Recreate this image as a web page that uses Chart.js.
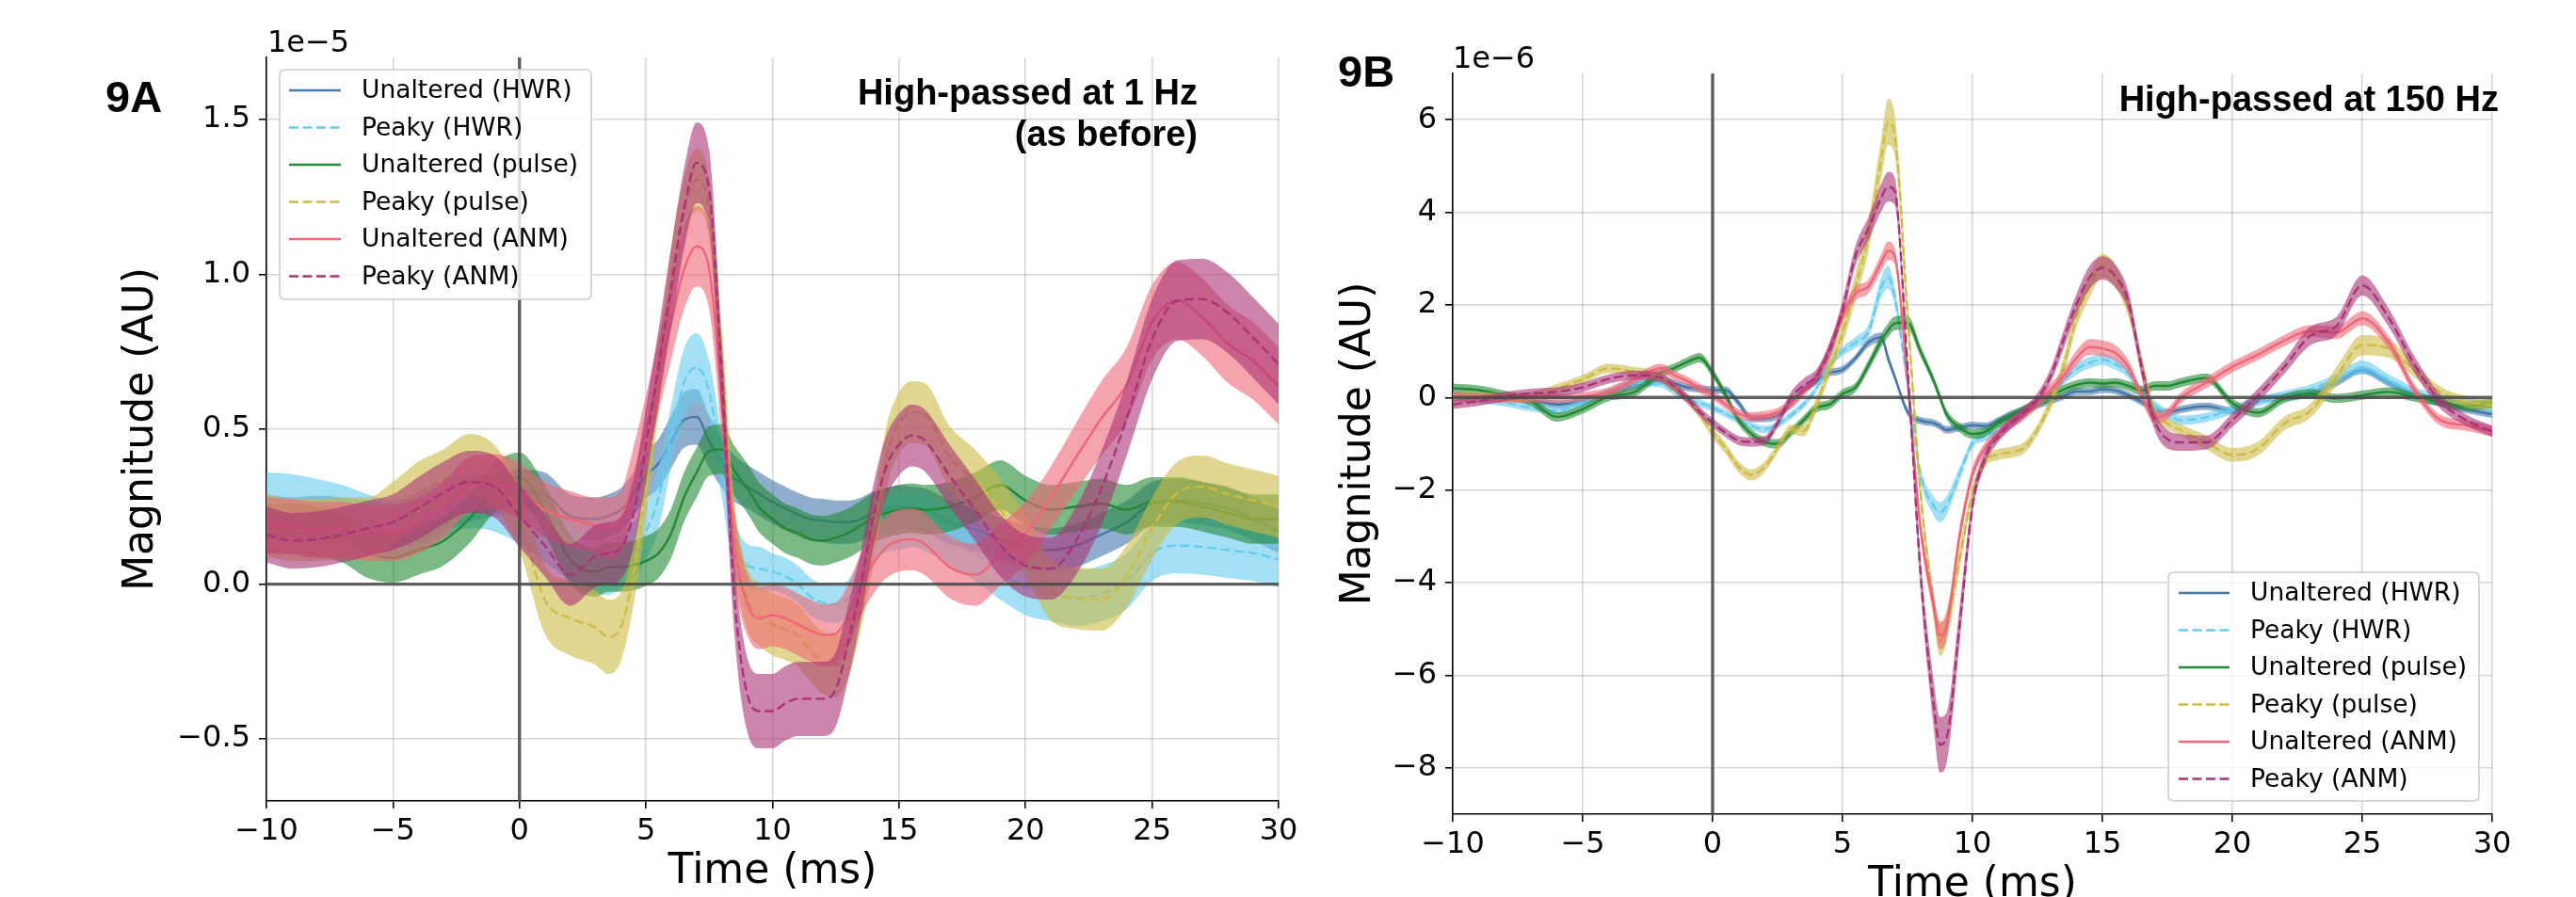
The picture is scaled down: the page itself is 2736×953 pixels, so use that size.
<!DOCTYPE html>
<html><head><meta charset="utf-8">
<script src="https://cdn.jsdelivr.net/npm/chart.js@4.4.1/dist/chart.umd.min.js"></script>
<style>
html,body{margin:0;padding:0;background:#fff;overflow:hidden;width:2736px;height:953px;}
#wa{position:absolute;left:0;top:0;width:1400px;height:953px;}
#wb{position:absolute;left:1400px;top:0;width:1336px;height:967px;}
canvas{display:block;}
</style></head><body>
<div id="wa"><canvas id="ca" width="1400" height="953"></canvas></div>
<div id="wb"><canvas id="cb" width="1336" height="967"></canvas></div>
<script>
// ---------- shared ----------
const seriesLabels = ['Unaltered (HWR)','Peaky (HWR)','Unaltered (pulse)','Peaky (pulse)','Unaltered (ANM)','Peaky (ANM)'];
const seriesColors = ['#4477AA','#66CCEE','#228833','#CCBB44','#EE6677','#AA3377'];
const seriesDashed = [false,true,false,true,false,true];
const xTicks = [-10,-5,0,5,10,15,20,25,30];
const xTickLabels = ['\u221210','\u22125','0','5','10','15','20','25','30'];

// ---------- Panel 9A (units of 1e-5) ----------
const yTicksA = [-0.5,0,0.5,1.0,1.5];
const yTickLabelsA = ['\u22120.5','0.0','0.5','1.0','1.5'];
const tA = [-10,-9,-8,-7,-6,-5,-4,-3,-2,-1,0,1,2,3,3.5,4,4.5,5,5.5,6,6.5,7,7.5,8,8.5,9,9.5,10,10.5,11,11.5,12,12.5,13,13.5,14,14.5,15,15.5,16,17,18,19,20,21,22,23,24,25,26,27,28,29,30];
const aUnaltHWR = [0.22,0.21,0.215,0.21,0.2,0.19,0.2,0.24,0.27,0.29,0.30,0.29,0.22,0.21,
 0.22,0.24,0.29,0.35,0.39,0.46,0.53,0.54,0.46,0.39,0.34,0.315,0.29,0.265,0.245,0.225,0.21,0.205,0.2,0.2,0.21,0.23,0.24,0.25,0.245,0.24,
 0.2,0.175,0.145,0.12,0.11,0.125,0.16,0.2,0.26,0.27,0.26,0.245,0.21,0.17];
const aPeakyHWR = [0.27,0.265,0.25,0.23,0.2,0.18,0.2,0.24,0.27,0.26,0.22,0.16,0.1,0.06,
 0.055,0.075,0.11,0.17,0.28,0.48,0.65,0.70,0.62,0.38,0.125,0.06,0.05,0.04,0.025,0.0,-0.04,-0.06,-0.065,-0.045,0.025,0.14,0.195,0.2,0.21,0.2,
 0.15,0.1,0.04,-0.01,-0.03,-0.045,-0.03,0.01,0.1,0.125,0.12,0.11,0.1,0.08];
const aUnaltPulse = [0.18,0.18,0.17,0.15,0.1,0.085,0.11,0.14,0.21,0.31,0.345,0.24,0.08,0.04,
 0.055,0.055,0.06,0.075,0.1,0.165,0.28,0.36,0.43,0.435,0.365,0.31,0.245,0.21,0.18,0.165,0.145,0.14,0.15,0.165,0.19,0.215,0.23,0.24,0.245,0.24,
 0.25,0.28,0.32,0.27,0.24,0.25,0.26,0.24,0.265,0.265,0.25,0.23,0.21,0.21];
const aPeakyPulse = [0.19,0.175,0.175,0.18,0.18,0.23,0.295,0.335,0.385,0.35,0.21,-0.05,-0.11,-0.14,
 -0.17,-0.14,0.03,0.31,0.66,0.99,1.21,1.305,1.21,0.73,0.165,-0.045,-0.1,-0.13,-0.145,-0.165,-0.215,-0.255,-0.265,-0.2,-0.045,0.165,0.41,0.52,0.555,0.55,
 0.41,0.335,0.24,0.125,-0.017,-0.045,-0.05,0.025,0.18,0.295,0.315,0.29,0.27,0.25];
const aUnaltANM = [0.19,0.185,0.175,0.175,0.165,0.165,0.19,0.24,0.32,0.33,0.30,0.24,0.21,0.19,
 0.18,0.2,0.34,0.5,0.675,0.845,1.015,1.09,1.015,0.59,0.125,-0.065,-0.11,-0.1,-0.11,-0.13,-0.15,-0.165,-0.16,-0.1,0.0,0.07,0.12,0.14,0.145,0.13,
 0.055,0.03,0.095,0.165,0.28,0.41,0.535,0.645,0.845,0.915,0.86,0.775,0.72,0.64];
const aPeakyANM = [0.16,0.14,0.145,0.16,0.18,0.2,0.245,0.295,0.33,0.315,0.22,0.125,0.03,0.09,
 0.1,0.115,0.225,0.45,0.705,0.96,1.21,1.36,1.27,0.66,-0.045,-0.355,-0.41,-0.41,-0.385,-0.37,-0.37,-0.37,-0.34,-0.185,0.0,0.225,0.38,0.45,0.48,0.465,
 0.35,0.24,0.125,0.06,0.05,0.14,0.31,0.535,0.79,0.915,0.92,0.875,0.795,0.71];
// band half-widths (read from shaded widths)
const aSdUnaltHWR = [0.07,0.07,0.07,0.07,0.07,0.07,0.07,0.07,0.07,0.07,0.07,0.07,0.07,0.07,
 0.07,0.07,0.07,0.075,0.08,0.085,0.09,0.09,0.085,0.08,0.075,0.07,0.07,0.07,0.07,0.07,0.07,0.07,0.07,0.07,0.07,0.07,0.07,0.07,0.07,0.07,
 0.07,0.07,0.07,0.07,0.07,0.07,0.07,0.07,0.07,0.07,0.07,0.07,0.07,0.07];
const aSdPeakyHWR = [0.09,0.09,0.09,0.09,0.09,0.09,0.09,0.09,0.09,0.09,0.09,0.09,0.09,0.09,
 0.09,0.09,0.09,0.09,0.1,0.1,0.11,0.11,0.1,0.1,0.09,0.07,0.07,0.06,0.06,0.06,0.06,0.06,0.06,0.06,0.07,0.08,0.09,0.09,0.09,0.09,
 0.09,0.09,0.09,0.09,0.09,0.09,0.09,0.09,0.09,0.09,0.09,0.09,0.09,0.09];
const aSdUnaltPulse = [0.08,0.08,0.08,0.08,0.08,0.08,0.08,0.08,0.08,0.08,0.08,0.08,0.08,0.08,
 0.08,0.08,0.08,0.08,0.08,0.08,0.08,0.08,0.08,0.08,0.08,0.08,0.08,0.08,0.08,0.08,0.08,0.08,0.08,0.08,0.08,0.08,0.08,0.08,0.08,0.08,
 0.08,0.08,0.08,0.08,0.08,0.08,0.08,0.08,0.08,0.08,0.08,0.08,0.08,0.08];
const aSdPeakyPulse = [0.1,0.1,0.1,0.1,0.1,0.1,0.1,0.1,0.1,0.1,0.1,0.11,0.12,0.12,
 0.12,0.11,0.1,0.1,0.1,0.1,0.1,0.1,0.1,0.1,0.1,0.1,0.1,0.1,0.1,0.1,0.1,0.1,0.1,0.1,0.1,0.1,0.1,0.1,0.1,0.1,
 0.1,0.1,0.1,0.1,0.1,0.1,0.1,0.1,0.1,0.1,0.1,0.1,0.1,0.1];
const aSdUnaltANM = [0.09,0.09,0.09,0.09,0.09,0.09,0.09,0.09,0.09,0.09,0.09,0.09,0.09,0.09,
 0.1,0.1,0.1,0.11,0.12,0.12,0.13,0.13,0.13,0.12,0.11,0.1,0.1,0.1,0.1,0.1,0.1,0.1,0.1,0.1,0.1,0.1,0.1,0.1,0.1,0.1,
 0.1,0.1,0.1,0.1,0.1,0.11,0.12,0.12,0.12,0.125,0.125,0.125,0.125,0.125];
const aSdPeakyANM = [0.09,0.09,0.09,0.09,0.09,0.09,0.1,0.1,0.1,0.1,0.1,0.1,0.1,0.1,
 0.1,0.1,0.11,0.12,0.12,0.13,0.13,0.13,0.13,0.12,0.12,0.12,0.12,0.12,0.12,0.12,0.12,0.12,0.12,0.12,0.11,0.1,0.1,0.1,0.1,0.1,
 0.1,0.1,0.1,0.1,0.1,0.11,0.12,0.12,0.13,0.13,0.13,0.13,0.13,0.13];

// ---------- Panel 9B (units of 1e-6) ----------
const yTicksB = [-8,-6,-4,-2,0,2,4,6];
const yTickLabelsB = ['\u22128','\u22126','\u22124','\u22122','0','2','4','6'];
const tB = [-10,-9,-8,-7,-6,-5,-4,-3,-2,
 -1.5,-1,-0.5,0,0.5,1,1.5,2,2.5,3,3.5,4,4.5,
 5,5.5,6,6.5,6.75,7,7.5,8,8.5,8.75,9,9.5,10,
 10.5,11,11.5,12,12.5,13,13.5,14,14.5,15,15.5,16,16.5,17,17.5,18,
 19,20,21,22,23,24,25,26,27,28,29,30];
const bUnaltHWR = [0.05,0.02,0.02,-0.05,-0.15,-0.08,0.09,0.26,0.36,
 0.31,0.22,0.19,0.16,0.16,-0.12,-0.45,-0.45,-0.39,-0.15,0.16,0.36,0.53,
 0.6,0.85,1.19,1.3,0.85,0.46,-0.31,-0.5,-0.55,-0.62,-0.7,-0.65,-0.6,
 -0.62,-0.5,-0.36,-0.26,-0.16,-0.07,0.03,0.13,0.13,0.18,0.15,0.05,-0.09,-0.26,-0.33,-0.26,
 -0.19,-0.29,-0.05,0.01,0.08,0.32,0.59,0.32,0.05,-0.12,-0.26,-0.36];
const bPeakyHWR = [-0.01,-0.05,-0.11,-0.22,-0.28,-0.11,0.12,0.31,0.3,
 0.14,-0.01,-0.12,-0.22,-0.35,-0.49,-0.62,-0.69,-0.59,-0.39,-0.15,0.2,0.7,
 1.0,1.19,1.43,2.4,2.6,2.2,0.3,-1.66,-2.34,-2.48,-2.34,-1.66,-0.99,
 -0.84,-0.7,-0.5,-0.31,-0.12,0.08,0.37,0.61,0.75,0.82,0.72,0.52,0.12,-0.16,-0.36,-0.49,
 -0.43,-0.26,-0.09,0.05,0.18,0.39,0.66,0.39,0.12,-0.02,-0.09,-0.22];
const bUnaltPulse = [0.2,0.16,0.05,-0.08,-0.42,-0.25,0.02,0.12,0.53,
 0.63,0.76,0.86,0.53,0.05,-0.49,-0.79,-0.96,-1.0,-0.76,-0.49,-0.22,-0.15,
 0.08,0.22,0.7,1.24,1.45,1.6,1.62,1.0,0.37,0.0,-0.36,-0.65,-0.79,
 -0.74,-0.55,-0.41,-0.26,-0.12,0.03,0.17,0.27,0.32,0.3,0.32,0.25,0.15,0.25,0.25,0.32,
 0.42,-0.12,-0.33,-0.02,0.08,-0.02,0.05,0.12,0.01,-0.09,-0.19,-0.12];
const bPeakyPulse = [0.02,0.02,-0.01,0.02,0.19,0.39,0.63,0.56,0.43,
 0.22,-0.01,-0.35,-0.76,-1.1,-1.5,-1.67,-1.5,-1.1,-0.69,-0.72,-0.15,0.65,
 1.4,2.4,3.5,5.2,5.95,5.7,1.82,-2.05,-4.46,-5.24,-4.95,-3.5,-2.05,
 -1.37,-1.23,-1.18,-1.08,-0.7,-0.12,0.66,1.72,2.4,2.85,2.62,1.94,0.79,-0.29,-0.56,-0.7,
 -0.97,-1.24,-1.1,-0.56,-0.29,0.45,1.13,1.06,0.59,0.12,-0.09,-0.16];
const bUnaltANM = [0.02,-0.01,-0.01,-0.01,-0.01,0.02,0.12,0.39,0.63,
 0.49,0.36,0.2,0.05,-0.15,-0.35,-0.42,-0.39,-0.32,-0.15,0.12,0.46,1.07,
 1.78,2.25,2.4,2.93,3.17,3.07,0.37,-2.82,-4.46,-5.14,-4.95,-3.0,-1.66,
 -1.08,-0.79,-0.55,-0.36,-0.12,0.17,0.46,0.85,1.09,1.06,0.96,0.66,0.05,-0.43,-0.36,-0.02,
 0.32,0.66,0.93,1.23,1.44,1.4,1.71,1.2,0.18,-0.49,-0.6,-0.73];
const bPeakyANM = [-0.15,-0.08,0.02,0.09,0.12,0.22,0.4,0.48,0.43,
 0.25,-0.01,-0.3,-0.55,-0.76,-0.93,-0.96,-0.93,-0.55,-0.01,0.26,0.46,1.0,
 1.9,3.07,3.65,4.33,4.55,4.47,0.66,-3.79,-6.59,-7.5,-7.36,-4.95,-2.34,
 -1.28,-0.84,-0.55,-0.31,-0.02,0.46,1.24,2.01,2.59,2.8,2.62,2.08,0.66,-0.49,-0.9,-0.97,
 -0.97,-0.49,0.05,0.66,1.33,1.54,2.42,1.74,0.72,-0.09,-0.49,-0.73];
const bSdUnaltHWR = [0.08,0.08,0.08,0.08,0.08,0.08,0.08,0.08,0.08,
 0.08,0.08,0.08,0.08,0.08,0.08,0.08,0.08,0.08,0.08,0.08,0.08,0.08,
 0.08,0.08,0.1,0.1,0.1,0.08,0.08,0.08,0.08,0.08,0.08,0.08,0.08,
 0.08,0.08,0.08,0.08,0.08,0.08,0.08,0.08,0.08,0.08,0.08,0.08,0.08,0.08,0.08,0.08,
 0.08,0.08,0.08,0.08,0.08,0.08,0.08,0.08,0.08,0.08,0.08,0.08];
const bSdPeakyHWR = [0.08,0.08,0.08,0.08,0.08,0.08,0.08,0.08,0.08,
 0.08,0.08,0.08,0.08,0.08,0.08,0.08,0.08,0.08,0.08,0.08,0.08,0.08,
 0.1,0.12,0.15,0.22,0.25,0.2,0.15,0.15,0.2,0.22,0.2,0.15,0.1,
 0.1,0.1,0.1,0.1,0.1,0.1,0.1,0.12,0.12,0.12,0.12,0.1,0.1,0.1,0.1,0.1,
 0.1,0.1,0.1,0.1,0.1,0.12,0.14,0.12,0.1,0.1,0.1,0.1];
const bSdUnaltPulse = [0.1,0.1,0.1,0.1,0.1,0.1,0.1,0.1,0.1,
 0.1,0.1,0.1,0.1,0.1,0.1,0.1,0.1,0.1,0.1,0.1,0.1,0.1,
 0.1,0.1,0.12,0.14,0.15,0.15,0.15,0.12,0.1,0.1,0.1,0.1,0.1,
 0.1,0.1,0.1,0.1,0.1,0.1,0.1,0.1,0.1,0.1,0.1,0.1,0.1,0.1,0.1,0.1,
 0.1,0.1,0.1,0.1,0.1,0.1,0.1,0.1,0.1,0.1,0.1,0.1];
const bSdPeakyPulse = [0.1,0.1,0.1,0.1,0.1,0.1,0.1,0.1,0.1,
 0.1,0.1,0.1,0.12,0.12,0.12,0.12,0.12,0.1,0.1,0.12,0.15,0.2,
 0.25,0.3,0.35,0.45,0.5,0.45,0.3,0.25,0.3,0.35,0.35,0.25,0.15,
 0.12,0.12,0.12,0.12,0.12,0.15,0.2,0.22,0.25,0.25,0.25,0.2,0.15,0.12,0.12,0.12,
 0.15,0.15,0.15,0.15,0.15,0.2,0.22,0.2,0.15,0.12,0.12,0.1];
const bSdUnaltANM = [0.1,0.1,0.1,0.1,0.1,0.1,0.1,0.1,0.1,
 0.1,0.1,0.1,0.1,0.1,0.1,0.1,0.1,0.1,0.1,0.1,0.1,0.12,
 0.15,0.15,0.15,0.18,0.2,0.18,0.15,0.2,0.25,0.3,0.28,0.2,0.15,
 0.12,0.12,0.12,0.12,0.12,0.12,0.14,0.16,0.17,0.17,0.17,0.15,0.12,0.12,0.12,0.12,
 0.12,0.12,0.12,0.12,0.12,0.14,0.15,0.14,0.12,0.12,0.12,0.12];
const bSdPeakyANM = [0.1,0.1,0.1,0.1,0.1,0.1,0.1,0.1,0.1,
 0.1,0.1,0.1,0.1,0.1,0.1,0.1,0.1,0.1,0.12,0.15,0.15,0.18,
 0.2,0.22,0.25,0.3,0.32,0.3,0.25,0.35,0.5,0.6,0.55,0.4,0.2,
 0.15,0.12,0.12,0.12,0.12,0.15,0.2,0.22,0.25,0.25,0.25,0.22,0.2,0.2,0.2,0.18,
 0.15,0.15,0.15,0.15,0.2,0.2,0.22,0.2,0.18,0.15,0.12,0.12];

// ---------- helpers ----------
function rgba(hex, a) {
  const n = parseInt(hex.slice(1), 16);
  return `rgba(${(n>>16)&255},${(n>>8)&255},${n&255},${a})`;
}
function check(t, arrs, name) {
  arrs.forEach((a, i) => { if (a.length !== t.length) throw new Error(name + ' array ' + i + ' length ' + a.length + ' != ' + t.length); });
}
function buildDatasets(t, means, sds) {
  const ds = [];
  const n = means.length;
  means.forEach((m, i) => {
    const col = seriesColors[i];
    const base = (n - i) * 3;
    const common = {pointRadius: 0, pointHoverRadius: 0, cubicInterpolationMode: 'monotone'};
    ds.push(Object.assign({}, common, {
      label: seriesLabels[i] + ' upper',
      data: t.map((x, k) => ({x, y: m[k] + sds[i][k]})),
      borderColor: 'rgba(0,0,0,0)', borderWidth: 1,
      backgroundColor: rgba(col, 0.6), fill: '+1', order: base + 2
    }));
    ds.push(Object.assign({}, common, {
      label: seriesLabels[i] + ' lower',
      data: t.map((x, k) => ({x, y: m[k] - sds[i][k]})),
      borderColor: 'rgba(0,0,0,0)', borderWidth: 1,
      backgroundColor: 'rgba(0,0,0,0)', fill: false, order: base + 1
    }));
    ds.push(Object.assign({}, common, {
      label: seriesLabels[i],
      data: t.map((x, k) => ({x, y: m[k]})),
      borderColor: col, borderWidth: 2.4, borderJoinStyle: 'round',
      borderDash: seriesDashed[i] ? [10, 4.5] : [],
      fill: false, order: base
    }));
  });
  return ds;
}
function roundRectPath(ctx, x, y, w, h, r) {
  ctx.beginPath();
  ctx.moveTo(x + r, y); ctx.lineTo(x + w - r, y); ctx.quadraticCurveTo(x + w, y, x + w, y + r);
  ctx.lineTo(x + w, y + h - r); ctx.quadraticCurveTo(x + w, y + h, x + w - r, y + h);
  ctx.lineTo(x + r, y + h); ctx.quadraticCurveTo(x, y + h, x, y + h - r);
  ctx.lineTo(x, y + r); ctx.quadraticCurveTo(x, y, x + r, y); ctx.closePath();
}

const refLinesPlugin = {
  id: 'refLines',
  afterDatasetsDraw(chart, args, o) {
    const {ctx, chartArea: a} = chart;
    const px = chart.scales.x.getPixelForValue(0), py = chart.scales.y.getPixelForValue(0);
    ctx.save();
    ctx.strokeStyle = o.color; ctx.lineWidth = o.width;
    ctx.beginPath(); ctx.moveTo(px, a.top); ctx.lineTo(px, a.bottom); ctx.stroke();
    ctx.beginPath(); ctx.moveTo(a.left, py); ctx.lineTo(a.right, py); ctx.stroke();
    ctx.restore();
  }
};
const boxLegendPlugin = {
  id: 'boxLegend',
  afterDraw(chart, args, o) {
    const ctx = chart.ctx;
    ctx.save();
    roundRectPath(ctx, o.x, o.y, o.w, o.h, 6);
    ctx.fillStyle = 'rgba(255,255,255,0.8)'; ctx.fill();
    ctx.strokeStyle = '#cccccc'; ctx.lineWidth = 1.6; ctx.stroke();
    seriesLabels.forEach((lab, i) => {
      const yy = o.rowY[i];
      ctx.beginPath();
      ctx.setLineDash(seriesDashed[i] ? [10, 4.5] : []);
      ctx.strokeStyle = seriesColors[i]; ctx.lineWidth = 2.4;
      ctx.moveTo(o.hx0, yy); ctx.lineTo(o.hx1, yy); ctx.stroke();
      ctx.setLineDash([]);
      ctx.fillStyle = '#000'; ctx.font = o.font;
      ctx.textBaseline = 'middle'; ctx.textAlign = 'left';
      ctx.fillText(lab, o.tx, yy + 1.5);
    });
    ctx.restore();
  }
};
const annotPlugin = {
  id: 'annot',
  afterDraw(chart, args, o) {
    const ctx = chart.ctx;
    ctx.save();
    ctx.fillStyle = '#000'; ctx.textBaseline = 'alphabetic';
    o.items.forEach(it => {
      ctx.font = it.font; ctx.textAlign = it.align;
      ctx.fillText(it.text, it.x, it.y);
    });
    ctx.restore();
  }
};

Chart.defaults.font.family = 'DejaVu Sans';
Chart.defaults.color = '#000';

function makeChart(id, t, means, sds, cfg) {
  check(t, means.concat(sds), id);
  return new Chart(document.getElementById(id), {
    type: 'line',
    data: {datasets: buildDatasets(t, means, sds)},
    options: {
      responsive: false, animation: false, devicePixelRatio: 1,
      events: [],
      layout: {padding: cfg.padding},
      plugins: {
        legend: {display: false}, tooltip: {enabled: false},
        refLines: {color: 'rgba(70,70,70,0.85)', width: 3.4},
        boxLegend: cfg.legend,
        annot: {items: cfg.texts}
      },
      scales: {
        x: {
          type: 'linear', min: -10, max: 30,
          afterBuildTicks: s => { s.ticks = xTicks.map(v => ({value: v})); },
          ticks: {callback: (v, i) => xTickLabels[i], font: {size: 32}, color: '#000', padding: 5, maxRotation: 0, autoSkip: false},
          grid: {color: 'rgba(0,0,0,0.16)', lineWidth: 1.6, tickColor: '#000', tickLength: 8, tickWidth: 1.6},
          border: {color: '#000', width: 1.6},
          title: {display: true, text: 'Time (ms)', font: {size: 44}, color: '#000', padding: {top: 0, bottom: 0}},
          afterFit: s => { s.height = cfg.xAxisHeight; }
        },
        y: {
          type: 'linear', min: cfg.yMin, max: cfg.yMax,
          afterBuildTicks: s => { s.ticks = cfg.yTicks.map(v => ({value: v})); },
          ticks: {callback: (v, i) => cfg.yTickLabels[i], font: {size: 32}, color: '#000', padding: 9, autoSkip: false},
          grid: {color: 'rgba(0,0,0,0.16)', lineWidth: 1.6, tickColor: '#000', tickLength: 8, tickWidth: 1.6},
          border: {color: '#000', width: 1.6},
          title: {display: true, text: 'Magnitude (AU)', font: {size: 44}, color: '#000', padding: {top: cfg.yTitlePad, bottom: 0}},
          afterFit: s => { s.width = cfg.yAxisWidth; }
        }
      }
    },
    plugins: [refLinesPlugin, boxLegendPlugin, annotPlugin]
  });
}

makeChart('ca', tA,
  [aUnaltHWR, aPeakyHWR, aUnaltPulse, aPeakyPulse, aUnaltANM, aPeakyANM],
  [aSdUnaltHWR, aSdPeakyHWR, aSdUnaltPulse, aSdPeakyPulse, aSdUnaltANM, aSdPeakyANM],
  {
    padding: {left: 0, right: 42, top: 61, bottom: 0},
    xAxisHeight: 102, yAxisWidth: 283, yTitlePad: 124,
    yMin: -0.7, yMax: 1.7, yTicks: yTicksA, yTickLabels: yTickLabelsA,
    legend: {x: 297, y: 74, w: 331, h: 244, rowY: [96, 135.5, 175, 214.5, 254, 293.5], hx0: 307, hx1: 362, tx: 384, font: '26.5px "DejaVu Sans"'},
    texts: [
      {text: '9A', x: 112, y: 119, font: 'bold 47px "Liberation Sans"', align: 'left'},
      {text: 'High-passed at 1 Hz', x: 1272, y: 111, font: 'bold 38px "Liberation Sans"', align: 'right'},
      {text: '(as before)', x: 1272, y: 155, font: 'bold 38px "Liberation Sans"', align: 'right'},
      {text: '1e\u22125', x: 284, y: 55, font: '32px "DejaVu Sans"', align: 'left'}
    ]
  });

makeChart('cb', tB,
  [bUnaltHWR, bPeakyHWR, bUnaltPulse, bPeakyPulse, bUnaltANM, bPeakyANM],
  [bSdUnaltHWR, bSdPeakyHWR, bSdUnaltPulse, bSdPeakyPulse, bSdUnaltANM, bSdPeakyANM],
  {
    padding: {left: 0, right: 89, top: 78, bottom: 0},
    xAxisHeight: 102, yAxisWidth: 143, yTitlePad: 17,
    yMin: -9, yMax: 7, yTicks: yTicksB, yTickLabels: yTickLabelsB,
    legend: {x: 903, y: 608, w: 330, h: 243, rowY: [630, 669.5, 709, 748.5, 788, 827.5], hx0: 914, hx1: 968, tx: 990, font: '26.5px "DejaVu Sans"'},
    texts: [
      {text: '9B', x: 21, y: 92, font: 'bold 47px "Liberation Sans"', align: 'left'},
      {text: 'High-passed at 150 Hz', x: 1254, y: 118, font: 'bold 38px "Liberation Sans"', align: 'right'},
      {text: '1e\u22126', x: 143, y: 72, font: '32px "DejaVu Sans"', align: 'left'}
    ]
  });
</script>
</body></html>
